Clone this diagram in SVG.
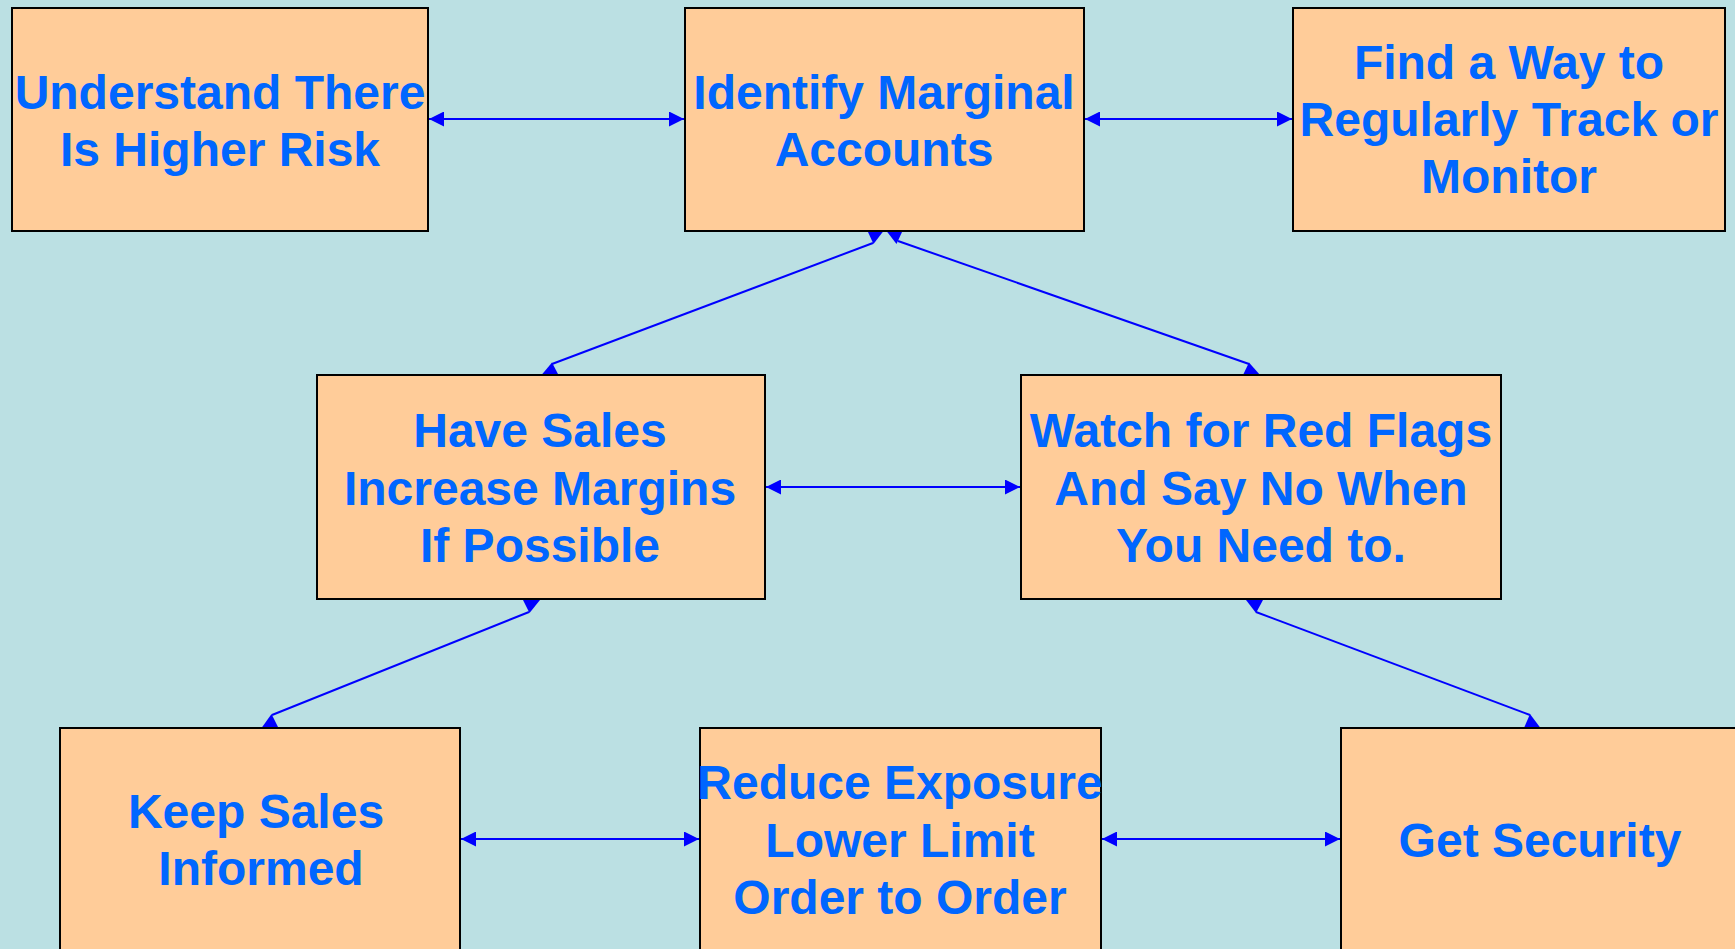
<svg xmlns="http://www.w3.org/2000/svg" width="1735" height="949" viewBox="0 0 1735 949">
<style>
.box{fill:#FFCC99;stroke:#000;stroke-width:2}
.t{font-family:"Liberation Sans",Arial,sans-serif;font-weight:bold;font-size:48px;fill:#0066FF;text-anchor:middle}
.c{stroke:#0000FF;stroke-width:2;fill:none}
.h{marker-start:url(#ah);marker-end:url(#ah)}
.a{fill:#0000FF}
</style>
<defs>
<marker id="ah" markerUnits="userSpaceOnUse" markerWidth="16" markerHeight="15" refX="15" refY="7.5" orient="auto-start-reverse" viewBox="0 0 16 15">
<path d="M0,0 L15,7.5 L0,15 z" fill="#0000FF"/>
</marker>
</defs>
<rect width="1735" height="949" fill="#BBE0E3"/>
<g id="connectors">
<line class="c h" x1="429" y1="119" x2="684" y2="119"/>
<line class="c h" x1="1085" y1="119" x2="1292" y2="119"/>
<line class="c h" x1="766" y1="487" x2="1020" y2="487"/>
<line class="c h" x1="461" y1="839" x2="699" y2="839"/>
<line class="c h" x1="1102" y1="839" x2="1340" y2="839"/>
<line class="c" x1="873" y1="243" x2="552" y2="364"/>
<polygon class="a" points="867.5,231 883.5,231 873.5,244"/>
<polygon class="a" points="552,362.5 541.5,375 558.5,375"/>
<line class="c" x1="898" y1="241" x2="1249" y2="364"/>
<polygon class="a" points="886.5,231 902.5,231 896.5,244"/>
<polygon class="a" points="1249,362.5 1243,375 1260,375"/>
<line class="c" x1="529" y1="612" x2="272" y2="715"/>
<polygon class="a" points="523,600 540,600 529.5,613"/>
<polygon class="a" points="271.5,714 261.5,728 278.5,728"/>
<line class="c" x1="1256" y1="612" x2="1530" y2="715"/>
<polygon class="a" points="1246,600 1263,600 1256,613"/>
<polygon class="a" points="1530,714 1524,728 1540.5,728"/>
</g>
<g id="n1"><rect class="box" x="12" y="8" width="416" height="223"/>
<text class="t" x="220" y="109">Understand There</text><text class="t" x="220" y="166">Is Higher Risk</text></g>
<g id="n2"><rect class="box" x="685" y="8" width="399" height="223"/>
<text class="t" x="884" y="109">Identify Marginal</text><text class="t" x="884" y="166">Accounts</text></g>
<g id="n3"><rect class="box" x="1293" y="8" width="432" height="223"/>
<text class="t" x="1509" y="79">Find a Way to</text><text class="t" x="1509" y="136">Regularly Track or</text><text class="t" x="1509" y="193">Monitor</text></g>
<g id="n4"><rect class="box" x="317" y="375" width="448" height="224"/>
<text class="t" x="540" y="447">Have Sales</text><text class="t" x="540" y="505">Increase Margins</text><text class="t" x="540" y="562">If Possible</text></g>
<g id="n5"><rect class="box" x="1021" y="375" width="480" height="224"/>
<text class="t" x="1261" y="447">Watch for Red Flags</text><text class="t" x="1261" y="505">And Say No When</text><text class="t" x="1261" y="562">You Need to.</text></g>
<g id="n6"><rect class="box" x="60" y="728" width="400" height="240"/>
<text class="t" x="256" y="828">Keep Sales</text><text class="t" x="261" y="885">Informed</text></g>
<g id="n7"><rect class="box" x="700" y="728" width="401" height="240"/>
<text class="t" x="900" y="799">Reduce Exposure</text><text class="t" x="900" y="857">Lower Limit</text><text class="t" x="900" y="914">Order to Order</text></g>
<g id="n8"><rect class="box" x="1341" y="728" width="400" height="240"/>
<text class="t" x="1540" y="857">Get Security</text></g>
</svg>
